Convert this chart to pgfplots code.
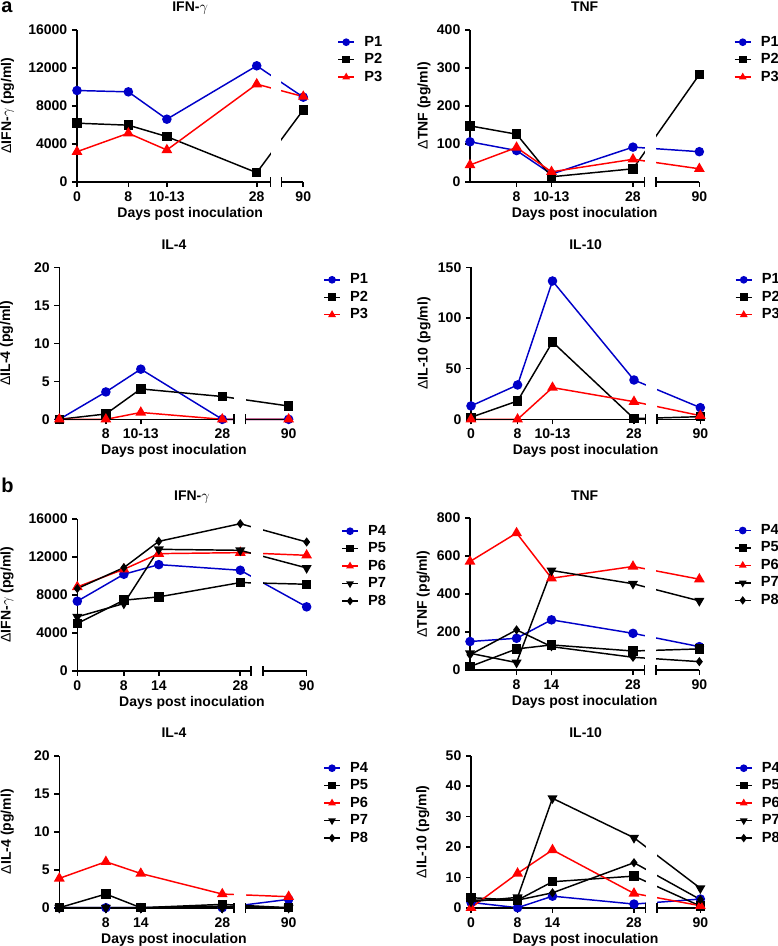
\documentclass[border=0pt]{standalone}
\usepackage{fontspec}
\setmainfont{Liberation Sans}
\usepackage{pgfplots}
\pgfplotsset{compat=1.18}

\definecolor{cblue}{RGB}{0,0,200}
\definecolor{cred}{RGB}{255,0,0}

\newcommand{\lab}[1]{\bfseries\fontsize{#1}{#1}\selectfont}

% panel title, placed above the axis box
\newcommand{\ttl}[1]{\node[font=\lab{10.5}, anchor=base, inner sep=0pt] at ([yshift=13.5pt]rel axis cs:0.5,1) {#1};}

% broken x axis: gap start, gap end, xmax, top of white band
\newcommand{\xbreak}[4]{%
  \fill[white] ([yshift=-2.5pt]axis cs:#1,0) rectangle (axis cs:#2,#4);
  \draw[line width=1.2pt] (axis cs:0,0) -- (axis cs:#1,0);
  \draw[line width=1.2pt] (axis cs:#2,0) -- (axis cs:#3,0);
  \draw[line width=1.2pt] ([yshift=-3.75pt]axis cs:#1,0) -- ([yshift=3.75pt]axis cs:#1,0);
  \draw[line width=1.2pt] ([yshift=-3.75pt]axis cs:#2,0) -- ([yshift=3.75pt]axis cs:#2,0);
}

\pgfplotsset{
  panel/.style={
    scale only axis, anchor=south west, clip=false,
    width=172pt, height=114pt,
    xmin=0, xmax=39.4, ymin=0,
    axis x line=bottom, axis y line=left,
    axis line style={-, line width=1.2pt},
    x axis line style={draw=none},
    tick align=outside, major tick length=3.75pt,
    every tick/.style={black, line width=1.2pt},
    ticklabel style={font=\lab{10.5}},
    /pgf/number format/assume math mode=true,
    /pgf/number format/1000 sep={},
    scaled y ticks=false,
    xlabel={Days post inoculation},
    xlabel style={font=\lab{10.5}, at={(axis description cs:0.5,0)}, anchor=center, yshift=-24pt},
    ylabel style={font=\lab{10.5}, anchor=center},
    legend style={draw=none, fill=none, at={(1.15,0.977)}, anchor=north west,
      inner sep=0pt, row sep=0pt, column sep=7pt, font=\lab{11},
      nodes={inner sep=0pt, text height=9.5pt, text depth=3.6pt}},
    legend cell align=left,
    legend image code/.code={\draw[mark repeat=2,mark phase=2, mark size=2.3pt] plot coordinates {(0pt,0pt) (6pt,0pt) (12pt,0pt)};},
  },
  sblue/.style={color=cblue, line width=1.1pt, mark=*, mark size=3pt},
  sblack/.style={color=black, line width=1.1pt, mark=square*, mark size=3pt},
  sred/.style={color=cred, line width=1.1pt, mark=triangle*, mark size=3.6pt},
  sdown/.style={color=black, line width=1.1pt, mark=triangle*, mark size=3.3pt, mark options={rotate=180}},
  sdiam/.style={color=black, line width=1.1pt, mark=diamond*, mark size=2.6pt},
}

\begin{document}
\begin{tikzpicture}
\useasboundingbox (0pt,0pt) rectangle (583.5pt,-709.5pt);
\node[anchor=north west, inner sep=0pt, font=\lab{15}] at (0.75pt,-1pt) {a};
\node[anchor=north west, inner sep=0pt, font=\lab{15}] at (0.75pt,-358.5pt) {b};

% ---- a: IFN-gamma
\begin{axis}[panel, at={(57.75pt,-136.28pt)}, width=169.7pt, xmax=35.25, ymax=16000,
  ytick={0,4000,8000,12000,16000}, xtick={0,8,14,28,35.25}, xticklabels={0,8,10-13,28,90},
  ylabel={{\mdseries Δ}IFN-$\gamma$ (pg/ml)},
  ylabel style={at={(axis description cs:-0.307,0.5)}}]
\addplot[sblue] coordinates {(0,9600)(8,9460)(14,6580)(28,12200)(35.25,8900)};
\addplot[sblack] coordinates {(0,6160)(8,5950)(14,4750)(28,950)(35.25,7560)};
\addplot[sred] coordinates {(0,3160)(8,5100)(14,3340)(28,10270)(35.25,8960)};
\xbreak{30.15}{31.85}{35.25}{17000}
\ttl{IFN-$\gamma$}
\legend{P1,P2,P3}
\end{axis}

% ---- a: TNF
\begin{axis}[panel, at={(352.5pt,-136.28pt)}, ymax=400,
  ytick={0,100,200,300,400}, xtick={8,14,28,39.4}, xticklabels={8,10-13,28,90},
  ylabel={{\mdseries Δ}TNF (pg/ml)},
  ylabel style={at={(axis description cs:-0.2,0.5)}}]
\addplot[sblue] coordinates {(0,105)(8,82)(14,20)(28,91)(39.4,79)};
\addplot[sblack] coordinates {(0,147)(8,125)(14,13)(28,34)(39.4,282)};
\addplot[sred] coordinates {(0,44)(8,90)(14,26)(28,59)(39.4,34)};
\xbreak{30}{32}{39.4}{425}
\ttl{TNF}
\legend{P1,P2,P3}
\end{axis}

% ---- a: IL-4
\begin{axis}[panel, at={(44.48pt,-314.48pt)}, ymax=20,
  ytick={0,5,10,15,20}, xtick={8,14,28,39.4}, xticklabels={8,10-13,28,90},
  ylabel={{\mdseries Δ}IL-4 (pg/ml)},
  ylabel style={at={(axis description cs:-0.23,0.5)}}]
\addplot[sblue] coordinates {(0,0)(8,3.6)(14,6.6)(28,0)(39.4,0)};
\addplot[sblack] coordinates {(0,0)(8,0.7)(14,4.0)(28,3.0)(39.4,1.75)};
\addplot[sred] coordinates {(0,0)(8,0)(14,0.9)(28,0)(39.4,0)};
\xbreak{30}{32}{39.4}{21}
\ttl{IL-4}
\legend{P1,P2,P3}
\end{axis}

% ---- a: IL-10
\begin{axis}[panel, at={(353.25pt,-314.48pt)}, ymax=150,
  ytick={0,50,100,150}, xtick={0,8,14,28,39.4}, xticklabels={0,8,10-13,28,90},
  ylabel={{\mdseries Δ}IL-10 (pg/ml)},
  ylabel style={at={(axis description cs:-0.205,0.5)}}]
\addplot[sblue] coordinates {(0,13.2)(8,33.9)(14,136.5)(28,38.8)(39.4,11.5)};
\addplot[sblack] coordinates {(0,2)(8,18.1)(14,76.3)(28,0.7)(39.4,2.6)};
\addplot[sred] coordinates {(0,0)(8,0)(14,31.3)(28,17.4)(39.4,3.6)};
\xbreak{30}{32}{39.4}{158}
\ttl{IL-10}
\legend{P1,P2,P3}
\end{axis}

% ---- b: IFN-gamma
\begin{axis}[panel, at={(57.98pt,-503.03pt)}, ymax=16000,
  ytick={0,4000,8000,12000,16000}, xtick={0,8,14,28,39.4}, xticklabels={0,8,14,28,90},
  ylabel={{\mdseries Δ}IFN-$\gamma$ (pg/ml)},
  ylabel style={at={(axis description cs:-0.306,0.5)}}]
\addplot[sblue] coordinates {(0,7317)(8,10153)(14,11168)(28,10573)(39.4,6722)};
\addplot[sblack] coordinates {(0,4972)(8,7422)(14,7772)(28,9278)(39.4,9103)};
\addplot[sred] coordinates {(0,8823)(8,10678)(14,12324)(28,12429)(39.4,12149)};
\addplot[sdown] coordinates {(0,5672)(8,7072)(14,12779)(28,12674)(39.4,10818)};
\addplot[sdiam] coordinates {(0,8648)(8,10853)(14,13619)(28,15475)(39.4,13549)};
\xbreak{29.85}{31.9}{39.4}{17000}
\ttl{IFN-$\gamma$}
\legend{P4,P5,P6,P7,P8}
\end{axis}

% ---- b: TNF
\begin{axis}[panel, at={(352.5pt,-502.5pt)}, ymax=800,
  ytick={0,200,400,600,800}, xtick={8,14,28,39.4}, xticklabels={8,14,28,90},
  ylabel={{\mdseries Δ}TNF (pg/ml)},
  ylabel style={at={(axis description cs:-0.204,0.5)}}]
\addplot[sblue] coordinates {(0,150)(8,167)(14,264)(28,193)(39.4,123)};
\addplot[sblack] coordinates {(0,18)(8,111)(14,132)(28,100)(39.4,111)};
\addplot[sred] coordinates {(0,571)(8,721)(14,483)(28,545)(39.4,478)};
\addplot[sdown] coordinates {(0,88)(8,39)(14,524)(28,454)(39.4,364)};
\addplot[sdiam] coordinates {(0,80)(8,211)(14,123)(28,67)(39.4,44)};
\xbreak{30}{32}{39.4}{850}
\ttl{TNF}
\legend{P4,P5,P6,P7,P8}
\end{axis}

% ---- b: IL-4
\begin{axis}[panel, at={(44.48pt,-680.78pt)}, ymax=20,
  ytick={0,5,10,15,20}, xtick={8,14,28,39.4}, xticklabels={8,14,28,90},
  ylabel={{\mdseries Δ}IL-4 (pg/ml)},
  ylabel style={at={(axis description cs:-0.227,0.5)}}]
\addplot[sblue] coordinates {(0,0)(8,0)(14,0)(28,0)(39.4,1.1)};
\addplot[sblack] coordinates {(0,0)(8,1.8)(14,0)(28,0.44)(39.4,0)};
\addplot[sred] coordinates {(0,3.86)(8,6.05)(14,4.5)(28,1.8)(39.4,1.45)};
\addplot[sdown] coordinates {(0,0)(8,0)(14,0)(28,0)(39.4,0)};
\addplot[sdiam] coordinates {(0,0)(8,0)(14,0)(28,0.2)(39.4,0)};
\xbreak{30}{32}{39.4}{21}
\ttl{IL-4}
\legend{P4,P5,P6,P7,P8}
\end{axis}

% ---- b: IL-10
\begin{axis}[panel, at={(353.25pt,-680.78pt)}, ymax=50,
  ytick={0,10,20,30,40,50}, xtick={0,8,14,28,39.4}, xticklabels={0,8,14,28,90},
  ylabel={{\mdseries Δ}IL-10 (pg/ml)},
  ylabel style={at={(axis description cs:-0.21,0.5)}}]
\addplot[sblue] coordinates {(0,1.75)(8,0)(14,3.8)(28,1.2)(39.4,2.85)};
\addplot[sblack] coordinates {(0,3.3)(8,2.5)(14,8.55)(28,10.4)(39.4,0.55)};
\addplot[sred] coordinates {(0,0)(8,11.3)(14,19)(28,4.7)(39.4,0.66)};
\addplot[sdown] coordinates {(0,2)(8,3.4)(14,36)(28,23)(39.4,6.4)};
\addplot[sdiam] coordinates {(0,2.5)(8,2.5)(14,4.9)(28,14.8)(39.4,2.7)};
\xbreak{30}{32}{39.4}{53}
\ttl{IL-10}
\legend{P4,P5,P6,P7,P8}
\end{axis}
\end{tikzpicture}
\end{document}
